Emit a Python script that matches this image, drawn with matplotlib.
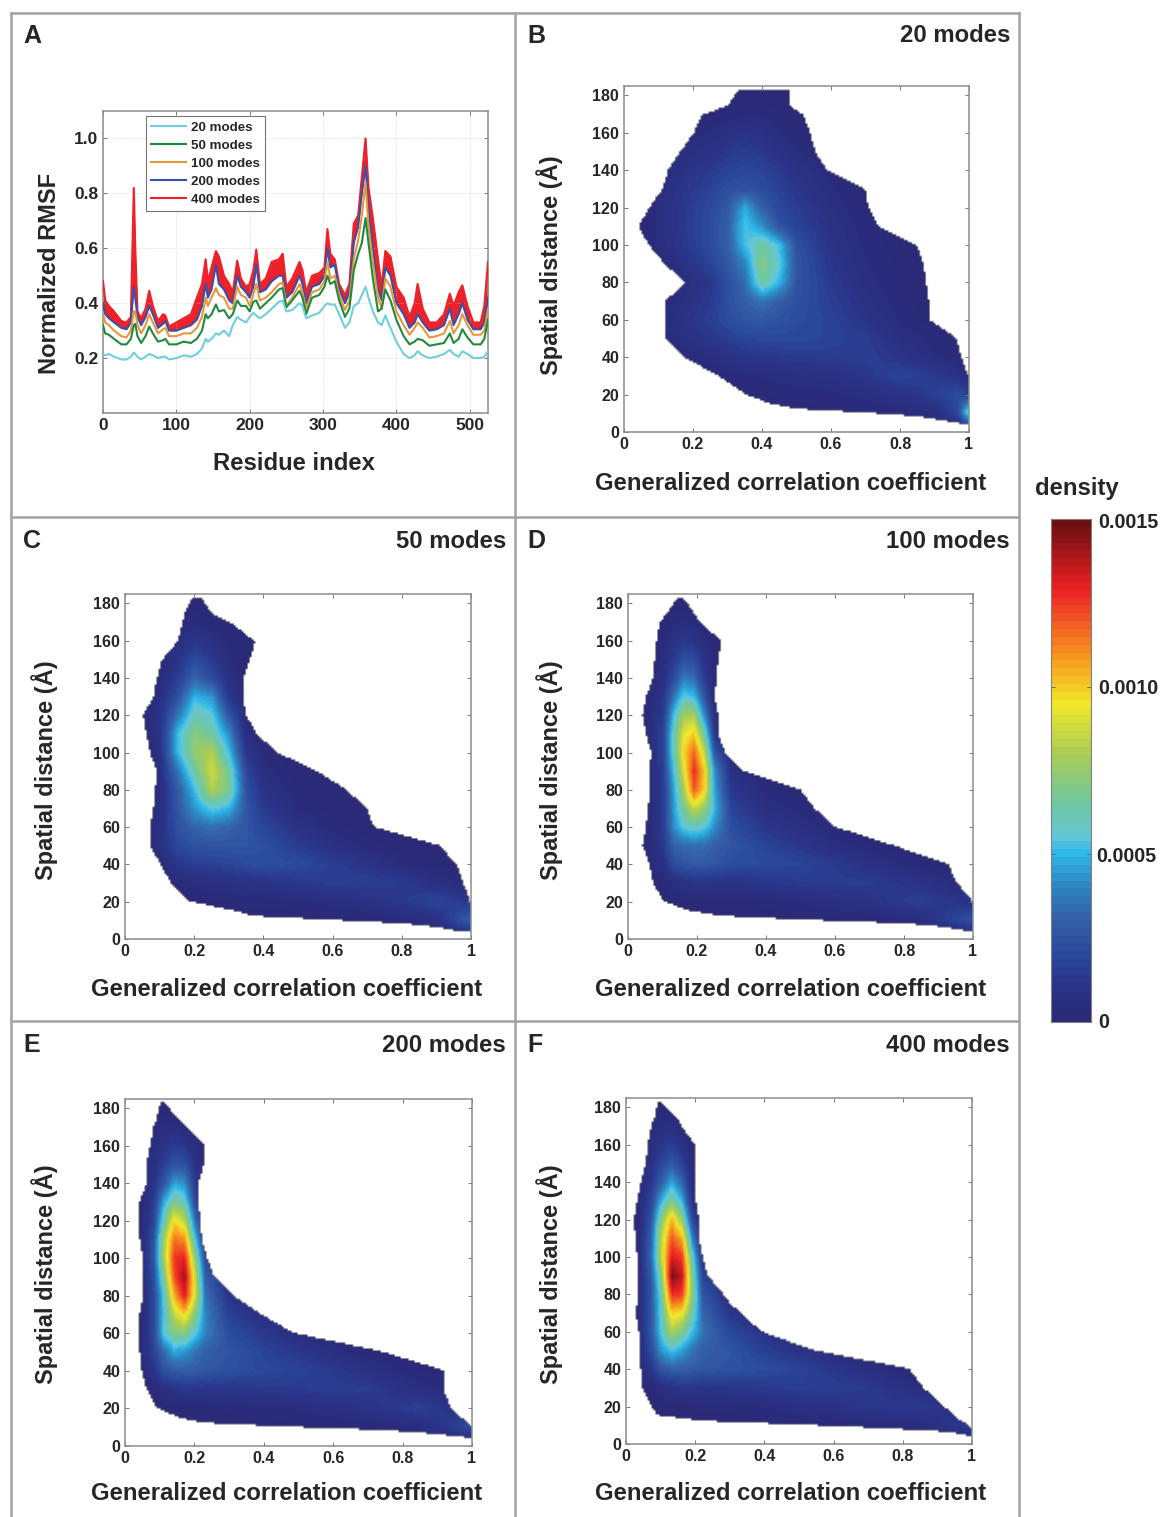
import numpy as np
import matplotlib
matplotlib.use("Agg")
import matplotlib.pyplot as plt
from matplotlib.colors import LinearSegmentedColormap, Normalize
from matplotlib.lines import Line2D

W, H = 1164, 1517
plt.rcParams['font.family'] = ['Liberation Sans', 'DejaVu Sans']
plt.rcParams['font.weight'] = 'bold'
TXT = '#262626'
SPINE = '#8c8c8c'

# panel A: normalized RMSF
residue = [0, 3, 8, 15, 25, 32, 38, 42, 44, 47,
           52, 58, 63, 68, 75, 82, 85, 90, 100, 110,
           120, 128, 135, 140, 143, 148, 154, 158, 165, 172,
           177, 183, 188, 195, 200, 205, 209, 214, 222, 230,
           240, 245, 250, 258, 268, 272, 277, 285, 295, 302,
           306, 310, 316, 322, 330, 336, 342, 348, 353, 358,
           362, 368, 375, 380, 385, 392, 400, 410, 418, 425,
           429, 436, 445, 455, 465, 473, 478, 485, 490, 497,
           505, 515, 520, 525]
rmsf20 = [.215, .21, .215, .205, .195, .195, .205, .22, .215, .205,
          .195, .205, .215, .21, .2, .205, .205, .195, .2, .21,
          .205, .215, .235, .27, .26, .27, .29, .285, .3, .28,
          .32, .35, .34, .33, .35, .365, .355, .345, .36, .38,
          .405, .41, .37, .375, .4, .39, .345, .355, .365, .39,
          .4, .395, .395, .36, .31, .33, .39, .4, .43, .46,
          .42, .37, .33, .32, .355, .31, .26, .215, .2, .21,
          .225, .21, .2, .205, .215, .23, .215, .205, .225, .215,
          .2, .2, .205, .225]
rmsf50 = [.32, .29, .285, .27, .25, .25, .27, .32, .325, .28,
          .255, .28, .315, .29, .26, .265, .27, .25, .25, .26,
          .255, .27, .3, .36, .345, .36, .395, .37, .375, .345,
          .36, .41, .39, .39, .37, .405, .41, .38, .4, .42,
          .45, .455, .385, .41, .445, .42, .36, .42, .43, .46,
          .5, .47, .48, .41, .35, .38, .52, .58, .62, .71,
          .62, .49, .37, .38, .45, .41, .34, .28, .25, .26,
          .27, .265, .245, .25, .255, .29, .255, .27, .305, .275,
          .25, .25, .27, .34]
rmsf100 = [.36, .33, .32, .30, .28, .275, .3, .37, .37, .32,
           .29, .32, .36, .33, .29, .305, .31, .28, .28, .29,
           .29, .31, .35, .42, .39, .42, .455, .43, .42, .38,
           .38, .46, .43, .42, .39, .43, .47, .41, .42, .44,
           .47, .475, .39, .42, .47, .44, .38, .44, .45, .48,
           .55, .49, .5, .43, .375, .41, .56, .63, .72, .84,
           .68, .55, .42, .38, .49, .46, .37, .32, .285, .31,
           .33, .31, .275, .28, .29, .335, .29, .32, .36, .32,
           .285, .285, .30, .38]
rmsf200 = [.40, .36, .345, .33, .31, .305, .33, .46, .42, .35,
           .32, .35, .39, .36, .31, .325, .335, .30, .30, .31,
           .32, .34, .39, .47, .42, .45, .54, .47, .45, .41,
           .40, .50, .46, .44, .42, .46, .54, .44, .45, .48,
           .50, .50, .42, .44, .50, .47, .40, .46, .47, .50,
           .60, .53, .54, .45, .40, .44, .62, .68, .80, .90,
           .74, .60, .45, .41, .53, .50, .40, .36, .31, .33,
           .36, .33, .30, .305, .32, .38, .32, .36, .40, .34,
           .305, .305, .33, .42]
rmsf400 = [.48, .41, .39, .37, .335, .33, .35, .82, .60, .37,
           .345, .38, .445, .39, .335, .36, .355, .315, .33, .345,
           .36, .42, .47, .56, .48, .53, .59, .57, .50, .47,
           .44, .555, .49, .46, .47, .52, .595, .47, .49, .55,
           .56, .58, .46, .49, .55, .52, .44, .50, .51, .53,
           .67, .58, .56, .47, .43, .47, .69, .72, .86, 1.0,
           .82, .71, .56, .46, .59, .57, .46, .42, .35, .40,
           .47, .38, .33, .33, .36, .435, .39, .44, .465, .39,
           .33, .33, .39, .55]
mode_labels = ['20 modes', '50 modes', '100 modes', '200 modes', '400 modes']
mode_colors = ['#6fcfdc', '#1f8a3c', '#e8963c', '#3a4fa8', '#ee2028']

# density colour scale, in units of 1e-4
scale_vals = [0, 1, 2, 3, 4, 5, 5.5, 6.5, 8, 9.5, 11, 12, 13, 15]
scale_cols = ['#2a2a78', '#2a3488', '#2b4a9c', '#3560a8', '#2e86c1', '#2fb8ea', '#65c7d8',
              '#6fc8a0', '#a9cd55', '#f2e92c', '#f7941d', '#f15a24', '#ed2024', '#6b0f10']

# outline of the filled region: left and right edge at each distance
edge_y = [4, 6, 8, 10, 12, 15, 20, 30, 40, 50, 60, 70, 75, 80, 90, 100, 110, 120, 130, 140, 150, 160, 170, 175, 183]
left_b = [.98, .92, .85, .7, .5, .42, .35, .27, .17, .12, .12, .115, .15, .175, .115, .07, .04, .07, .11, .125, .16, .2, .225, .3, .33]
right_b = [1, 1, 1, 1, 1, 1, 1, 1, .98, .965, .886, .886, .882, .878, .87, .85, .74, .71, .70, .59, .555, .54, .52, .48, .48]
left_c = [.96, .9, .8, .58, .37, .31, .18, .13, .10, .07, .07, .08, .085, .085, .09, .07, .06, .05, .08, .09, .105, .15, .165, .17, .19]
right_c = [1, 1, 1, 1, 1, 1, 1, .98, .96, .91, .72, .70, .67, .64, .555, .44, .38, .35, .34, .34, .36, .375, .305, .25, .22]
left_d = [.98, .92, .8, .5, .27, .17, .1, .07, .06, .04, .05, .055, .06, .06, .06, .065, .05, .04, .05, .07, .075, .08, .09, .11, .14]
right_d = [1, 1, 1, 1, 1, 1, 1, .955, .93, .77, .6, .54, .52, .5, .335, .28, .26, .26, .25, .255, .26, .27, .21, .19, .16]
left_e = [.99, .9, .75, .45, .22, .15, .09, .06, .045, .04, .04, .04, .045, .05, .05, .05, .04, .035, .04, .06, .06, .07, .08, .09, .1]
right_e = [1, 1, 1, 1, .99, .97, .94, .92, .92, .74, .485, .39, .35, .31, .255, .235, .22, .215, .21, .21, .225, .23, .177, .15, .11]
left_f = [.99, .94, .75, .5, .22, .09, .07, .045, .04, .035, .035, .025, .03, .03, .03, .03, .025, .02, .03, .04, .055, .06, .07, .08, .09]
right_f = [1, 1, 1, .99, .97, .95, .92, .86, .82, .54, .39, .33, .3, .28, .235, .22, .21, .21, .2, .2, .2, .2, .16, .145, .1]

# density grids, 1e-4 units, rows from 180 down to 0
dist_rows = [180, 170, 160, 150, 140, 130, 120, 110, 100, 90, 80, 70, 60, 50, 40, 30, 20, 10, 0]

cols_b = [.05, .15, .25, .3, .35, .4, .45, .5, .6, .7, .8, .9, .97, 1]
dens_b = [[0, 0, 0, .1, .1, .1, .1, .1, 0, 0, 0, 0, 0, 0],
          [0, 0, .2, .3, .4, .4, .2, .1, 0, 0, 0, 0, 0, 0],
          [0, .2, .5, .8, 1, .8, .5, .2, 0, 0, 0, 0, 0, 0],
          [0, .4, .9, 1.3, 1.5, 1.3, .9, .5, .1, 0, 0, 0, 0, 0],
          [.1, .7, 1.4, 1.8, 2, 1.8, 1.4, .9, .3, 0, 0, 0, 0, 0],
          [.1, 1, 1.8, 2.3, 2.5, 2.2, 1.7, 1.2, .5, .1, 0, 0, 0, 0],
          [.1, 1.1, 2.1, 2.8, 4.8, 3, 2, 1.5, .7, .2, 0, 0, 0, 0],
          [.1, 1.1, 2.2, 3, 5.4, 4.3, 2.5, 1.8, .9, .3, .1, 0, 0, 0],
          [.1, 1, 2.2, 3, 5.2, 6.5, 5.2, 2.4, 1, .4, .1, 0, 0, 0],
          [0, .6, 1.8, 2.7, 4, 7.2, 5.6, 2.6, 1.2, .5, .2, 0, 0, 0],
          [0, .3, 1.2, 2.3, 3.4, 6.6, 5, 2.6, 1.4, .6, .2, 0, 0, 0],
          [0, .5, 1.4, 2.3, 3, 3.6, 3, 2.4, 1.6, .8, .3, .1, 0, 0],
          [0, .8, 1.6, 2.2, 2.6, 2.7, 2.5, 2.2, 1.8, 1.1, .4, .1, 0, 0],
          [0, .5, 1.2, 1.6, 1.9, 2, 2, 2, 1.8, 1.5, .7, .3, .1, 0],
          [0, .1, .6, .9, 1.1, 1.2, 1.3, 1.4, 1.5, 1.6, 1.1, .5, .2, .1],
          [0, 0, .2, .3, .4, .5, .6, .7, .8, 1.2, 1.9, 1.4, .9, .6],
          [0, 0, 0, .1, .2, .2, .3, .3, .4, .6, .9, 1.6, 2.2, 1.5],
          [0, 0, 0, 0, 0, 0, .1, .1, .2, .2, .3, .5, 2, 6],
          [0, 0, 0, 0, 0, 0, 0, 0, 0, 0, 0, 0, 0, 0]]

cols_c = [.05, .1, .15, .2, .25, .3, .35, .4, .5, .6, .7, .8, .9, 1]
dens_c = [[0, 0, 0, .1, .1, 0, 0, 0, 0, 0, 0, 0, 0, 0],
          [0, 0, .2, .4, .2, 0, 0, 0, 0, 0, 0, 0, 0, 0],
          [0, .1, .6, 1.2, .8, .2, .1, 0, 0, 0, 0, 0, 0, 0],
          [0, .2, 1, 2.2, 1.4, .5, .1, 0, 0, 0, 0, 0, 0, 0],
          [0, .4, 1.6, 3.2, 2.2, .7, .1, 0, 0, 0, 0, 0, 0, 0],
          [0, .7, 2.4, 5, 4.4, 1.2, .2, 0, 0, 0, 0, 0, 0, 0],
          [0, 1, 3.6, 6.2, 5.6, 2.6, .3, 0, 0, 0, 0, 0, 0, 0],
          [0, 1, 5.2, 7.2, 6.5, 4.2, .5, .1, 0, 0, 0, 0, 0, 0],
          [0, .9, 5, 7.5, 8.2, 5.2, 1.2, .3, 0, 0, 0, 0, 0, 0],
          [0, .7, 3.6, 6.4, 8.8, 6.5, 2, .6, .1, 0, 0, 0, 0, 0],
          [0, .6, 2.8, 5.2, 8.2, 6.8, 2.4, .9, .2, 0, 0, 0, 0, 0],
          [0, .7, 2.6, 4.4, 5.6, 5, 2.6, 1.4, .4, .1, 0, 0, 0, 0],
          [0, .8, 2.4, 3.2, 3.5, 3.2, 2.6, 1.9, .9, .3, .1, 0, 0, 0],
          [0, .8, 2, 2.5, 2.6, 2.6, 2.6, 2.3, 1.5, .8, .3, .1, 0, 0],
          [0, .2, 1.2, 1.6, 1.7, 1.9, 2.1, 2.3, 2.1, 1.6, 1, .4, .1, 0],
          [0, 0, .3, .6, .7, .8, .9, 1, 1.3, 1.6, 1.7, 1.4, .7, .2],
          [0, 0, 0, .1, .2, .2, .3, .3, .4, .6, .8, 1.3, 1.9, 1.2],
          [0, 0, 0, 0, 0, 0, .1, .1, .1, .2, .2, .3, .7, 3],
          [0, 0, 0, 0, 0, 0, 0, 0, 0, 0, 0, 0, 0, 0]]

cols_d = [.05, .1, .13, .16, .19, .22, .25, .3, .4, .5, .6, .7, .85, 1]
dens_d = [[0, 0, .1, .1, .1, 0, 0, 0, 0, 0, 0, 0, 0, 0],
          [0, .1, .4, .5, .4, .1, 0, 0, 0, 0, 0, 0, 0, 0],
          [0, .3, .9, 1.3, 1.1, .5, .1, 0, 0, 0, 0, 0, 0, 0],
          [0, .5, 1.4, 2.4, 2.2, .9, .2, 0, 0, 0, 0, 0, 0, 0],
          [0, .8, 2.2, 3.8, 3.4, 1.5, .2, 0, 0, 0, 0, 0, 0, 0],
          [0, 1.2, 3.6, 5.6, 5.2, 2.5, .3, 0, 0, 0, 0, 0, 0, 0],
          [0, 1.5, 5.2, 7.8, 8, 4.2, .6, .1, 0, 0, 0, 0, 0, 0],
          [0, 1.8, 6, 9.2, 10, 6.5, 1.2, .2, 0, 0, 0, 0, 0, 0],
          [.1, 1.8, 6, 9.8, 11.8, 8.5, 2.6, .3, 0, 0, 0, 0, 0, 0],
          [0, 1.6, 5.2, 9, 12.8, 10, 4.2, .7, .1, 0, 0, 0, 0, 0],
          [0, 1.5, 4.6, 8, 12, 9.8, 4.6, 1.2, .3, .1, 0, 0, 0, 0],
          [0, 1.5, 4.4, 6.8, 8.6, 7.6, 5, 1.8, .7, .3, .1, 0, 0, 0],
          [0, 1.5, 4.2, 5.6, 6, 5.6, 4.2, 2.2, 1.2, .7, .2, 0, 0, 0],
          [0, 1.4, 3, 3.4, 3.5, 3.4, 3, 2.6, 1.8, 1.2, .6, .2, 0, 0],
          [0, .8, 2.2, 2.6, 2.8, 2.8, 2.6, 2.2, 2.1, 1.9, 1.4, .8, .2, 0],
          [0, .2, .6, .9, 1.1, 1.1, 1, 1, 1.2, 1.4, 1.5, 1.5, .9, .1],
          [0, 0, .1, .1, .1, .2, .2, .2, .3, .5, .7, .9, 1.7, .8],
          [0, 0, 0, 0, 0, 0, 0, .1, .1, .1, .2, .2, .5, 2.5],
          [0, 0, 0, 0, 0, 0, 0, 0, 0, 0, 0, 0, 0, 0]]

cols_e = [.04, .08, .11, .14, .17, .2, .23, .3, .4, .5, .6, .7, .85, 1]
dens_e = [[0, .1, .1, .1, 0, 0, 0, 0, 0, 0, 0, 0, 0, 0],
          [0, .3, .5, .6, .3, .1, 0, 0, 0, 0, 0, 0, 0, 0],
          [0, .5, 1, 1.4, 1.2, .5, .1, 0, 0, 0, 0, 0, 0, 0],
          [0, .7, 1.6, 2.6, 2.4, 1, .2, 0, 0, 0, 0, 0, 0, 0],
          [0, 1, 2.6, 4.6, 4.2, 1.4, .2, 0, 0, 0, 0, 0, 0, 0],
          [0, 1.4, 4.8, 6.8, 6, 2.2, .3, 0, 0, 0, 0, 0, 0, 0],
          [0, 1.8, 6.2, 9.8, 8.5, 3.5, .5, 0, 0, 0, 0, 0, 0, 0],
          [.1, 2.4, 7.8, 11.5, 11, 5.5, 1, .1, 0, 0, 0, 0, 0, 0],
          [.1, 2.6, 8, 12.5, 13, 7.5, 2, .2, 0, 0, 0, 0, 0, 0],
          [0, 2.2, 6.8, 12.2, 14.2, 8.8, 3, .6, .1, 0, 0, 0, 0, 0],
          [0, 2, 5.6, 10.5, 13.2, 9, 3.6, 1, .3, .1, 0, 0, 0, 0],
          [0, 2, 5.4, 8.5, 10, 7.2, 4, 1.6, .7, .3, .1, 0, 0, 0],
          [0, 2, 5.6, 7, 7.2, 5.6, 4, 2.2, 1.3, .6, .2, 0, 0, 0],
          [0, 1.8, 3.4, 4.8, 4.4, 3.6, 3, 2.6, 1.8, 1.2, .6, .2, 0, 0],
          [0, 1, 2.4, 2.8, 3, 2.9, 2.7, 2.4, 2, 1.8, 1.4, .8, .2, 0],
          [0, .2, .7, 1, 1.2, 1.2, 1.1, 1.1, 1.3, 1.4, 1.5, 1.5, .6, .1],
          [0, 0, .1, .2, .2, .2, .2, .3, .4, .5, .7, 1, 1.7, .6],
          [0, 0, 0, 0, 0, 0, 0, .1, .1, .2, .2, .2, .5, 2.2],
          [0, 0, 0, 0, 0, 0, 0, 0, 0, 0, 0, 0, 0, 0]]

cols_f = [.03, .07, .1, .13, .16, .19, .22, .3, .4, .5, .6, .7, .85, 1]
dens_f = [[0, .1, .1, .1, 0, 0, 0, 0, 0, 0, 0, 0, 0, 0],
          [0, .3, .6, .6, .3, 0, 0, 0, 0, 0, 0, 0, 0, 0],
          [0, .6, 1.2, 1.6, .9, .2, 0, 0, 0, 0, 0, 0, 0, 0],
          [0, .9, 1.9, 2.8, 1.8, .3, 0, 0, 0, 0, 0, 0, 0, 0],
          [0, 1.3, 3, 4.8, 3.2, .5, 0, 0, 0, 0, 0, 0, 0, 0],
          [.1, 1.9, 5, 7, 5, 1, .1, 0, 0, 0, 0, 0, 0, 0],
          [.1, 2.5, 7.2, 10.5, 7.6, 2, .2, 0, 0, 0, 0, 0, 0, 0],
          [.1, 3, 8.4, 12, 10.5, 4, .4, 0, 0, 0, 0, 0, 0, 0],
          [.1, 3.2, 8.5, 13.2, 12.5, 6, 1, .1, 0, 0, 0, 0, 0, 0],
          [.1, 2.8, 7, 14.8, 13.5, 7, 1.8, .3, 0, 0, 0, 0, 0, 0],
          [.1, 2.5, 6.2, 12.8, 12.5, 7.2, 2.6, .6, .1, 0, 0, 0, 0, 0],
          [.1, 2.6, 5.8, 10, 9.5, 6.4, 3.2, 1.2, .4, .1, 0, 0, 0, 0],
          [.1, 2.6, 5.6, 8, 7, 5.2, 3.6, 2, 1, .4, .1, 0, 0, 0],
          [.1, 2.2, 4.4, 5.4, 4.6, 3.6, 3, 2.6, 1.6, 1, .4, .1, 0, 0],
          [.1, 1.2, 2.6, 3, 3, 2.9, 2.7, 2.5, 2.2, 1.8, 1.2, .6, .1, 0],
          [0, .3, .7, 1, 1.2, 1.2, 1.1, 1.2, 1.4, 1.6, 1.6, 1.4, .5, 0],
          [0, 0, .1, .2, .2, .3, .3, .3, .5, .7, .9, 1.3, 1.4, .3],
          [0, 0, 0, 0, 0, 0, 0, .1, .1, .2, .2, .3, .5, 1.6],
          [0, 0, 0, 0, 0, 0, 0, 0, 0, 0, 0, 0, 0, 0]]

fig = plt.figure(figsize=(W / 100, H / 100), dpi=100)


def px_axes(l, t, r, b):
    return fig.add_axes([l / W, 1 - b / H, (r - l) / W, (b - t) / H])


def px_text(x, y, s, **kw):
    kw.setdefault('color', TXT)
    kw.setdefault('va', 'center')
    fig.text(x / W, 1 - y / H, s, **kw)


def px_line(x0, y0, x1, y1):
    fig.add_artist(Line2D([x0 / W, x1 / W], [1 - y0 / H, 1 - y1 / H], color='#a3a3a3', lw=1.8))


def style_axes(ax):
    for sp in ax.spines.values():
        sp.set_color(SPINE)
        sp.set_linewidth(1.1)
    ax.tick_params(direction='in', length=3, width=.7, color='#777777', top=True, right=True,
                   labelsize=11.5, labelcolor=TXT, pad=3.5)


cmap = LinearSegmentedColormap.from_list('dens', [(v / 15, c) for v, c in zip(scale_vals, scale_cols)], N=64)
norm = Normalize(0, 15)


def density_panel(box, cols, dens, left, right):
    ax = px_axes(*box)
    xs = np.linspace(0, 1, 175)
    ys = np.linspace(0, 185, 175)
    rows = np.array(dist_rows[::-1], float)
    grid = np.array(dens, float)[::-1]
    across = np.array([np.interp(xs, cols, r) for r in grid])
    field = np.array([np.interp(ys, rows, across[:, i]) for i in range(len(xs))]).T
    lo = np.interp(ys, edge_y, left)
    hi = np.interp(ys, edge_y, right)
    keep = np.array([(xs >= lo[j]) & (xs <= hi[j]) for j in range(len(ys))])
    keep[(ys < edge_y[0]) | (ys > edge_y[-1])] = False
    ax.imshow(np.ma.masked_where(~keep, field), origin='lower', extent=[0, 1, 0, 185], aspect='auto',
              cmap=cmap, norm=norm, interpolation='bilinear')
    ax.set_xlim(0, 1)
    ax.set_ylim(0, 185)
    ax.set_xticks([0, .2, .4, .6, .8, 1], ['0', '0.2', '0.4', '0.6', '0.8', '1'])
    ax.set_yticks(range(0, 181, 20))
    style_axes(ax)
    return ax


# panel A
axa = px_axes(103, 111, 488, 413)
series = [rmsf20, rmsf50, rmsf100, rmsf200, rmsf400]
axa.fill_between(residue, rmsf200, rmsf400, color=mode_colors[4], lw=0, zorder=1)
for i, vals in enumerate(series):
    axa.plot(residue, vals, color=mode_colors[i], lw=1.5, label=mode_labels[i], zorder=7 - i)
axa.set_xlim(0, 525)
axa.set_ylim(0, 1.1)
axa.set_xticks(range(0, 501, 100))
axa.set_yticks([.2, .4, .6, .8, 1.0], ['0.2', '0.4', '0.6', '0.8', '1.0'])
axa.grid(True, ls=':', lw=.5, color='#c8c8c8')
style_axes(axa)
axa.tick_params(labelsize=12.5)
axa.legend(loc='upper left', bbox_to_anchor=(.112, .983), borderaxespad=0, fontsize=9.6, fancybox=False,
           framealpha=1, edgecolor='#777777', labelspacing=.42, handlelength=2.6, handletextpad=.35,
           borderpad=.4, labelcolor=TXT).get_frame().set_linewidth(.8)
px_text(294, 463, 'Residue index', fontsize=17.2, ha='center')
px_text(49, 273, 'Normalized RMSF', fontsize=17, ha='center', rotation=90)

# panels B to F
panels = [((624, 86, 969, 432), cols_b, dens_b, left_b, right_b, 550, 265, 791, 484),
          ((125, 594, 471, 939), cols_c, dens_c, left_c, right_c, 45, 770, 287, 989),
          ((628, 594, 973, 939), cols_d, dens_d, left_d, right_d, 550, 770, 791, 989),
          ((125, 1099, 472, 1446), cols_e, dens_e, left_e, right_e, 45, 1274, 287, 1493),
          ((626, 1098, 972, 1444), cols_f, dens_f, left_f, right_f, 550, 1274, 791, 1493)]
for box, cols, dens, left, right, ylx, yly, xlx, xly in panels:
    density_panel(box, cols, dens, left, right)
    px_text(xlx, xly, 'Generalized correlation coefficient', fontsize=17.2, ha='center')
    px_text(ylx, yly, 'Spatial distance (Å)', fontsize=17, ha='center', rotation=90)

# frame, letters and titles
for x in (11, 515, 1019):
    px_line(x, 13, x, H)
for y in (13, 517, 1021):
    px_line(11, y, 1019, y)
for s, x, y in [('A', 23, 36), ('B', 527, 36), ('C', 23, 541), ('D', 527, 541), ('E', 23, 1045), ('F', 527, 1045)]:
    px_text(x, y, s, fontsize=18, ha='left')
for s, x, y in [('20 modes', 1010, 36), ('50 modes', 506, 541), ('100 modes', 1010, 541),
                ('200 modes', 506, 1045), ('400 modes', 1010, 1045)]:
    px_text(x, y, s, fontsize=17.2, ha='right')

# colour bar
cax = px_axes(1051, 519, 1091, 1022)
cax.imshow(np.linspace(0, 15, 64)[:, None], origin='lower', extent=[0, 1, 0, 15], aspect='auto',
           cmap=cmap, norm=norm, interpolation='nearest')
cax.set_xticks([])
cax.set_yticks([5, 10])
cax.set_yticklabels([])
for sp in cax.spines.values():
    sp.set_color('#808080')
    sp.set_linewidth(.8)
cax.tick_params(direction='in', length=3, width=.7, color='#666666', left=True, right=True)
px_text(1035, 488, 'density', fontsize=17.2, ha='left')
for s, x, y in [('0.0015', 1098, 522), ('0.0010', 1098, 689), ('0.0005', 1096, 856), ('0', 1098, 1022)]:
    px_text(x, y, s, fontsize=14.2, ha='left')

fig.savefig('out.png', dpi=100)
